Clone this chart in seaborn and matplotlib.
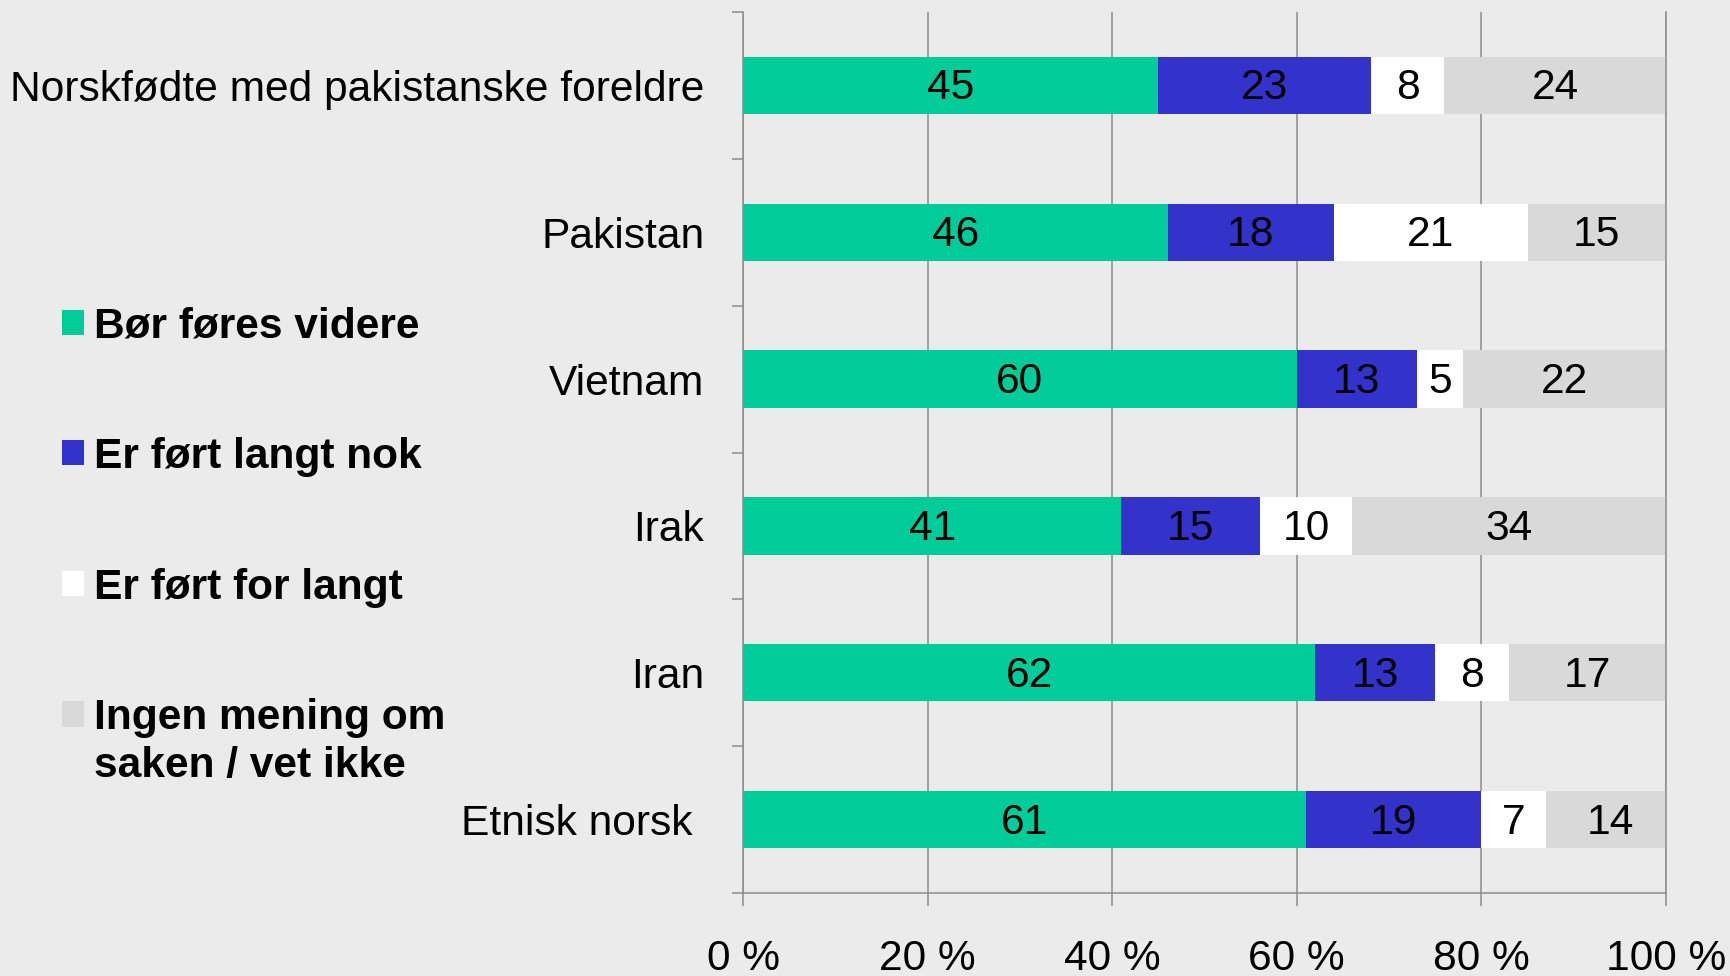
import matplotlib
matplotlib.use("Agg")
import matplotlib.pyplot as plt
from matplotlib.patches import Patch
from matplotlib.text import Annotation
import seaborn as sns
import pandas as pd
import numpy as np

# ---- data ----
categories = ["Norskfødte med pakistanske foreldre", "Pakistan", "Vietnam",
              "Irak", "Iran", "Etnisk norsk "]
series_names = ["Bør føres videre", "Er ført langt nok", "Er ført for langt",
                "Ingen mening om"]
legend_extra_line = "saken / vet ikke"
bor_fores_videre = [45, 46, 60, 41, 62, 61]
fort_langt_nok = [23, 18, 13, 15, 13, 19]
fort_for_langt = [8, 21, 5, 10, 8, 7]
ingen_mening = [24, 15, 22, 34, 17, 14]
x_ticks = [0, 20, 40, 60, 80, 100]
x_tick_labels = ["0 %", "20 %", "40 %", "60 %", "80 %", "100 %"]
colors = ["#00CC99", "#3333CC", "#FFFFFF", "#D9D9D9"]

BG = "#EBEBEB"
GRID = "#8C8C8C"
FS = 30.6

sns.set_theme(style="white")
plt.rcParams["font.family"] = ["Liberation Sans", "DejaVu Sans"]
plt.rcParams["text.color"] = "black"
plt.rcParams["xtick.labelcolor"] = "black"
plt.rcParams["ytick.labelcolor"] = "black"

series_values = [bor_fores_videre, fort_langt_nok, fort_for_langt, ingen_mening]
df = pd.DataFrame({"kategori": categories})
for name, vals in zip(series_names, series_values):
    df[name] = vals
cum = df[series_names].cumsum(axis=1)

fig = plt.figure(figsize=(17.3, 9.76), dpi=100, facecolor=BG)
ax = fig.add_axes([0.4295, 0.0850, 0.5335, 0.9027])
ax.set_facecolor(BG)

# stacked bars via overlaid cumulative totals (largest first)
for name, col in reversed(list(zip(series_names, colors))):
    sns.barplot(x=cum[name], y=df["kategori"], color=col, saturation=1,
                width=0.39, orient="h", ax=ax, linewidth=0, errorbar=None,
                zorder=2)

# value labels
for i, name in enumerate(series_names):
    start = cum[name] - df[name]
    for j, v in enumerate(df[name]):
        ax.annotate(str(v), xy=(start[j] + v / 2, j), xytext=(0, -3),
                    textcoords="offset pixels", ha="center", va="center",
                    fontsize=FS, color="black", zorder=4)

ax.set_xlim(0, 100)
ax.set_ylim(len(categories) - 0.5, -0.5)
ax.set_xlabel("")
ax.set_ylabel("")

ax.set_xticks(x_ticks)
ax.set_xticklabels(x_tick_labels, fontsize=FS)
ax.tick_params(axis="x", which="major", length=9.4, width=1.1, color=GRID,
               pad=24, direction="out", bottom=True)

ax.set_yticks(np.arange(-0.5, len(categories), 1))
ax.set_yticklabels([""] * (len(categories) + 1))
ax.set_yticks(np.arange(len(categories)), minor=True)
ax.set_yticklabels(categories, minor=True, fontsize=FS)
ax.tick_params(axis="y", which="major", length=8, width=1.1, color=GRID,
               direction="out", left=True)
ax.tick_params(axis="y", which="minor", length=0, pad=28)

ax.xaxis.grid(True, color=GRID, linewidth=1.1, zorder=0)
ax.yaxis.grid(False)
ax.set_axisbelow(True)

ax.spines["top"].set_visible(False)
for s in ["left", "bottom", "right"]:
    ax.spines[s].set_visible(True)
    ax.spines[s].set_color(GRID)
    ax.spines[s].set_linewidth(1.1)

# legend
handles = [Patch(facecolor=c, edgecolor="none", label=l)
           for c, l in zip(colors, series_names)]
leg = fig.legend(handles=handles, loc="upper left",
                 bbox_to_anchor=(0.0358, 0.686), frameon=False,
                 prop=dict(family="Liberation Sans", weight="bold", size=FS),
                 handlelength=0.53, handleheight=0.53, handletextpad=0.22,
                 labelspacing=2.13, borderpad=0, borderaxespad=0)
for t in leg.get_texts():
    t.set_color("black")

extra = Annotation(legend_extra_line, xy=(0, 0), xycoords=leg.get_texts()[3],
                   xytext=(0, -48), textcoords="offset pixels",
                   ha="left", va="bottom", fontsize=FS, fontweight="bold",
                   family="Liberation Sans", color="black",
                   annotation_clip=False)
extra.set_zorder(10)
fig.add_artist(extra)

fig.savefig("out.png", dpi=100, facecolor=BG)
